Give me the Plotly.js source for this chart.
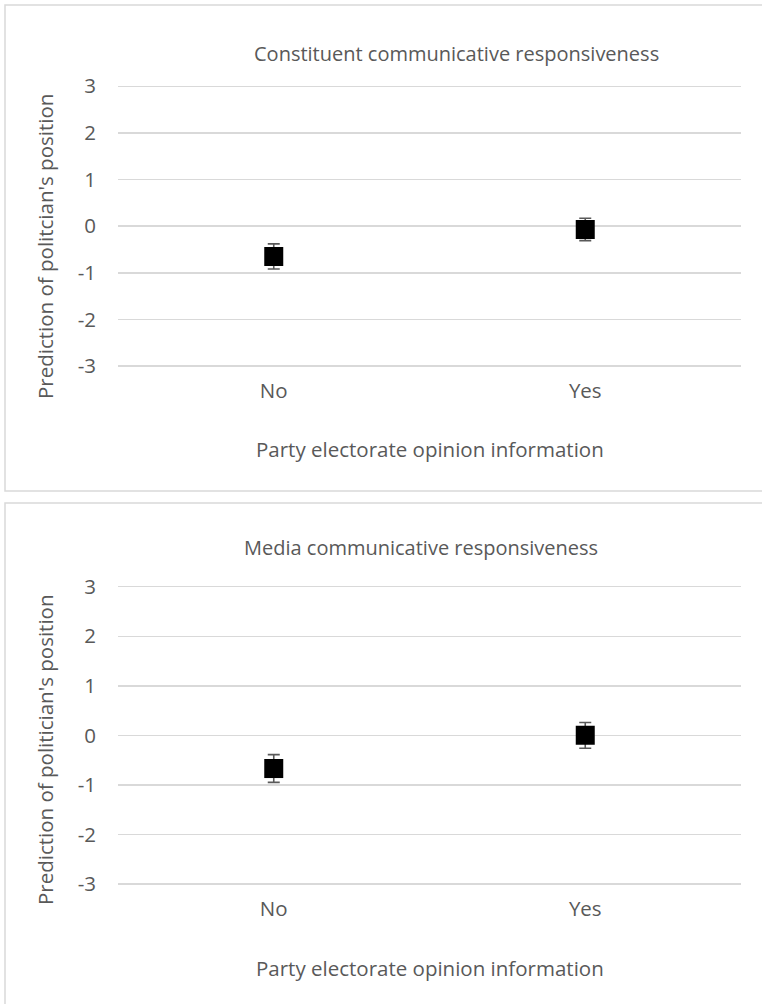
<!DOCTYPE html>
<html>
<head>
<meta charset="utf-8">
<script src="https://cdn.plot.ly/plotly-3.0.1.min.js"></script>
<style>
html,body{margin:0;padding:0;background:#fff;}
#chart{width:762px;height:1004px;}
</style>
</head>
<body>
<div id="chart"></div>
<script>
// ---- data ----
const categories = ['No', 'Yes'];
const constituentMeans = [-0.65, -0.07];
const constituentErrors = [0.27, 0.24];
const mediaMeans = [-0.67, 0.0];
const mediaErrors = [0.28, 0.26];
const yTickValues = [-3, -2, -1, 0, 1, 2, 3];
const yTickLabels = ['-3', '-2', '-1', '0', '1', '2', '3'];
const topTitle = 'Constituent communicative responsiveness';
const bottomTitle = 'Media communicative responsiveness';
const xTitle = 'Party electorate opinion information';
const topYTitle = "Prediction of politcian's position";
const bottomYTitle = "Prediction of politician's position";

const W = 762, H = 1004;
const px = v => v / W;
const py = v => 1 - v / H;
const textColor = '#595959';
const fontFamily = 'Open Sans, Liberation Sans, sans-serif';
const fs = 20.5;

function trace(means, errs, xa, ya) {
  return {
    type: 'scatter', mode: 'markers',
    x: categories, y: means, xaxis: xa, yaxis: ya,
    marker: {symbol: 'square', size: 19, color: '#000000'},
    error_y: {type: 'data', array: errs, visible: true, color: '#595959', thickness: 1.6, width: 6},
    showlegend: false, hoverinfo: 'skip'
  };
}

const data = [
  trace(constituentMeans, constituentErrors, 'x', 'y'),
  trace(mediaMeans, mediaErrors, 'x2', 'y2')
];

const xCommon = {
  type: 'category', range: [-0.5, 1.5], showgrid: false, zeroline: false, showline: false,
  ticks: '', tickfont: {family: fontFamily, size: fs, color: textColor},
  ticklabelstandoff: 6, fixedrange: true, automargin: false
};
const yCommon = {
  range: [-3.1, 3.1], tickmode: 'array', tickvals: yTickValues, ticktext: yTickLabels,
  showgrid: true, gridcolor: '#d9d9d9', gridwidth: 1.5,
  zeroline: false, showline: false, ticks: '',
  tickfont: {family: fontFamily, size: fs, color: textColor},
  ticklabelstandoff: 21, fixedrange: true, automargin: false
};

// pixel positions of the +3 / -3 gridlines, padded by 0.1 unit each side
const topUnit = (366 - 86.3) / 6, botUnit = (884 - 586.7) / 6;
const xDomain = [px(118), px(741)];
const layout = {
  width: W, height: H,
  margin: {l: 0, r: 0, t: 0, b: 0, pad: 0},
  paper_bgcolor: '#ffffff', plot_bgcolor: 'rgba(0,0,0,0)',
  font: {family: fontFamily, size: fs, color: textColor},
  xaxis: Object.assign({}, xCommon, {domain: xDomain, anchor: 'y'}),
  yaxis: Object.assign({}, yCommon, {domain: [py(366 + 0.1 * topUnit), py(86.3 - 0.1 * topUnit)], anchor: 'x'}),
  xaxis2: Object.assign({}, xCommon, {domain: xDomain, anchor: 'y2'}),
  yaxis2: Object.assign({}, yCommon, {domain: [py(884 + 0.1 * botUnit), py(586.7 - 0.1 * botUnit)], anchor: 'x2'}),
  shapes: [
    {type: 'rect', xref: 'paper', yref: 'paper', x0: px(5), x1: px(775), y0: py(491), y1: py(5),
     line: {color: '#d9d9d9', width: 1.5}, fillcolor: 'rgba(0,0,0,0)', layer: 'below'},
    {type: 'rect', xref: 'paper', yref: 'paper', x0: px(5), x1: px(775), y0: py(1015), y1: py(503),
     line: {color: '#d9d9d9', width: 1.5}, fillcolor: 'rgba(0,0,0,0)', layer: 'below'}
  ],
  annotations: [
    {text: topTitle, xref: 'paper', yref: 'paper', x: px(456), y: py(54), showarrow: false,
     xanchor: 'center', yanchor: 'middle', font: {family: fontFamily, size: 20, color: textColor}},
    {text: bottomTitle, xref: 'paper', yref: 'paper', x: px(421), y: py(547), showarrow: false,
     xanchor: 'center', yanchor: 'middle', font: {family: fontFamily, size: 20, color: textColor}},
    {text: xTitle, xref: 'paper', yref: 'paper', x: px(430), y: py(449), showarrow: false,
     xanchor: 'center', yanchor: 'middle', font: {family: fontFamily, size: fs, color: textColor}},
    {text: xTitle, xref: 'paper', yref: 'paper', x: px(430), y: py(968), showarrow: false,
     xanchor: 'center', yanchor: 'middle', font: {family: fontFamily, size: fs, color: textColor}},
    {text: topYTitle, xref: 'paper', yref: 'paper', x: px(45), y: py(247), showarrow: false, textangle: -90,
     xanchor: 'center', yanchor: 'middle', font: {family: fontFamily, size: fs, color: textColor}},
    {text: bottomYTitle, xref: 'paper', yref: 'paper', x: px(45), y: py(750), showarrow: false, textangle: -90,
     xanchor: 'center', yanchor: 'middle', font: {family: fontFamily, size: fs, color: textColor}}
  ]
};

Plotly.newPlot('chart', data, layout, {displayModeBar: false, staticPlot: true});
</script>
</body>
</html>
